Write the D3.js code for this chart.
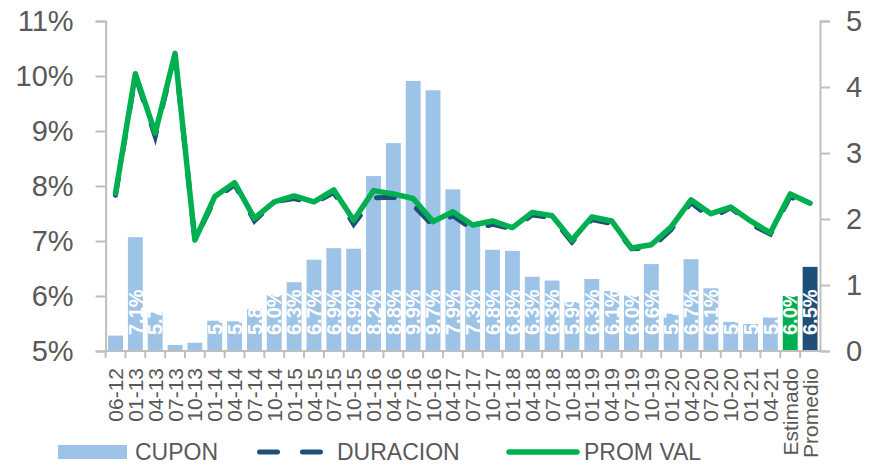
<!DOCTYPE html>
<html>
<head>
<meta charset="utf-8">
<script src="https://cdn.jsdelivr.net/npm/d3@7"></script>
<style>
    body { margin: 0; background: #fff; }
    text { font-family: "Liberation Sans", Arial, sans-serif; }
</style>
</head>
<body>
<div id="chart"></div>
<script>
// categorias (trimestres + estimado y promedio)
const fechas = ["06-12", "01-13", "04-13", "07-13", "10-13", "01-14", "04-14", "07-14", "10-14",
    "01-15", "04-15", "07-15", "10-15", "01-16", "04-16", "07-16", "10-16", "04-17", "07-17",
    "10-17", "01-18", "04-18", "07-18", "10-18", "01-19", "04-19", "07-19", "10-19", "01-20",
    "04-20", "07-20", "10-20", "01-21", "04-21", "Estimado", "Promedio"];

// cupon, en % (eje izquierdo)
const cupon = [5.28, 7.07, 5.70, 5.11, 5.15, 5.55, 5.54, 5.76, 6.02, 6.25, 6.66, 6.87, 6.86,
    8.18, 8.78, 9.91, 9.74, 7.94, 7.30, 6.84, 6.82, 6.35, 6.28, 5.89, 6.31, 6.09, 6.01, 6.58,
    5.68, 6.67, 6.14, 5.53, 5.49, 5.61, 6.00, 6.53];

// duracion y prom val (eje derecho)
const duracion = [2.36, 4.17, 3.25, 4.49, 1.68, 2.30, 2.52, 1.97, 2.26, 2.31, 2.24, 2.40, 1.92,
    2.32, 2.33, 2.21, 1.90, 2.05, 1.84, 1.92, 1.85, 2.06, 2.02, 1.65, 1.99, 1.93, 1.55, 1.56,
    1.84, 2.25, 2.01, 2.17, 1.92, 1.77, 2.34, 2.18];
const promVal = [2.39, 4.20, 3.30, 4.51, 1.68, 2.34, 2.55, 2.01, 2.26, 2.35, 2.26, 2.44, 1.98,
    2.43, 2.38, 2.31, 1.96, 2.11, 1.91, 1.97, 1.87, 2.10, 2.05, 1.68, 2.03, 1.97, 1.56, 1.61,
    1.88, 2.29, 2.08, 2.18, 1.97, 1.79, 2.38, 2.24];

const ticksIzq = [5, 6, 7, 8, 9, 10, 11];
const ticksDer = [0, 1, 2, 3, 4, 5];

const W = 875, H = 465;
const x0 = 105.6, x1 = 820, yTop = 21, yBot = 351;
const gris = "#595959", ejeColor = "#bfbfbf";

const svg = d3.select("#chart").append("svg")
    .attr("width", W)
    .attr("height", H);

const x = d3.scaleBand(fechas, [x0, x1]).paddingInner(0.25).paddingOuter(0.125);
const yL = d3.scaleLinear([5, 11], [yBot, yTop]);
const yR = d3.scaleLinear([0, 5], [yBot, yTop]);

// color de cada barra: las dos ultimas son especiales
const colorBarra = (d, i) => fechas[i] === "Estimado" ? "#00b050"
    : fechas[i] === "Promedio" ? "#1f4e79" : "#9dc3e6";

svg.append("g").selectAll("rect")
    .data(cupon)
    .enter().append("rect")
    .attr("x", (d, i) => x(fechas[i]))
    .attr("width", x.bandwidth())
    .attr("y", d => yL(d))
    .attr("height", d => yBot - yL(d))
    .attr("fill", colorBarra);

// etiquetas blancas dentro de las barras (lo que sobresale queda blanco sobre blanco)
svg.append("g").selectAll("text")
    .data(cupon)
    .enter().append("text")
    .attr("transform", (d, i) => `translate(${x(fechas[i]) + x.bandwidth() / 2},${yBot - 16}) rotate(-90)`)
    .attr("dy", "0.36em")
    .attr("fill", "#fff")
    .attr("font-weight", "bold")
    .attr("font-size", 20)
    .text(d => d.toFixed(1) + "%");

// ejes
const gIzq = svg.append("g").attr("transform", `translate(${x0},0)`)
    .call(d3.axisLeft(yL).tickValues(ticksIzq).tickSize(10).tickPadding(22).tickFormat(d => d + "%"));
const gDer = svg.append("g").attr("transform", `translate(${x1},0)`)
    .call(d3.axisRight(yR).tickValues(ticksDer).tickSize(10).tickPadding(16).tickFormat(d => d));
[gIzq, gDer].forEach(g => {
    g.select(".domain").attr("stroke", ejeColor).attr("stroke-width", 2);
    g.selectAll(".tick line").attr("stroke", ejeColor).attr("stroke-width", 2);
    g.selectAll(".tick text").attr("fill", gris).attr("font-size", 29)
        .style("font-family", "'Liberation Sans', Arial, sans-serif");
});

// eje x: linea, marcas entre categorias y etiquetas giradas
svg.append("line")
    .attr("x1", x0).attr("x2", x1)
    .attr("y1", yBot).attr("y2", yBot)
    .attr("stroke", ejeColor).attr("stroke-width", 2);
svg.append("g").selectAll("line")
    .data(fechas)
    .enter().append("line")
    .attr("x1", d => x(d) - x.step() * x.paddingInner() / 2)
    .attr("x2", d => x(d) - x.step() * x.paddingInner() / 2)
    .attr("y1", yBot).attr("y2", yBot + 7)
    .attr("stroke", ejeColor).attr("stroke-width", 2);
svg.append("g").selectAll("text")
    .data(fechas)
    .enter().append("text")
    .attr("transform", d => `translate(${x(d) + x.bandwidth() / 2},${yBot + 17}) rotate(-90)`)
    .attr("dy", "0.36em")
    .attr("text-anchor", "end")
    .attr("fill", gris)
    .attr("font-size", 21)
    .text(d => d);

// lineas
const linea = d3.line()
    .x((d, i) => x(fechas[i]) + x.bandwidth() / 2)
    .y(d => yR(d));

svg.append("path")
    .datum(duracion)
    .attr("d", linea)
    .attr("fill", "none")
    .attr("stroke", "#1f4e79")
    .attr("stroke-width", 5)
    .attr("stroke-dasharray", "18,25")
    .attr("stroke-linecap", "round");

svg.append("path")
    .datum(promVal)
    .attr("d", linea)
    .attr("fill", "none")
    .attr("stroke", "#00b050")
    .attr("stroke-width", 5.5)
    .attr("stroke-linejoin", "round")
    .attr("stroke-linecap", "round");

// leyenda
const ly = 452;
const leg = svg.append("g");
leg.append("rect").attr("x", 58).attr("y", 445).attr("width", 69).attr("height", 14).attr("fill", "#9dc3e6");
leg.append("line").attr("x1", 259.5).attr("x2", 323).attr("y1", ly).attr("y2", ly)
    .attr("stroke", "#1f4e79").attr("stroke-width", 5)
    .attr("stroke-dasharray", "18,25").attr("stroke-linecap", "round");
leg.append("line").attr("x1", 509).attr("x2", 577).attr("y1", ly).attr("y2", ly)
    .attr("stroke", "#00b050").attr("stroke-width", 5.5).attr("stroke-linecap", "round");
[["CUPON", 135], ["DURACION", 337], ["PROM VAL", 584]].forEach(([t, px]) => {
    leg.append("text")
        .attr("x", px).attr("y", ly)
        .attr("dy", "0.36em")
        .attr("fill", gris)
        .attr("font-size", 23)
        .text(t);
});
</script>
</body>
</html>
